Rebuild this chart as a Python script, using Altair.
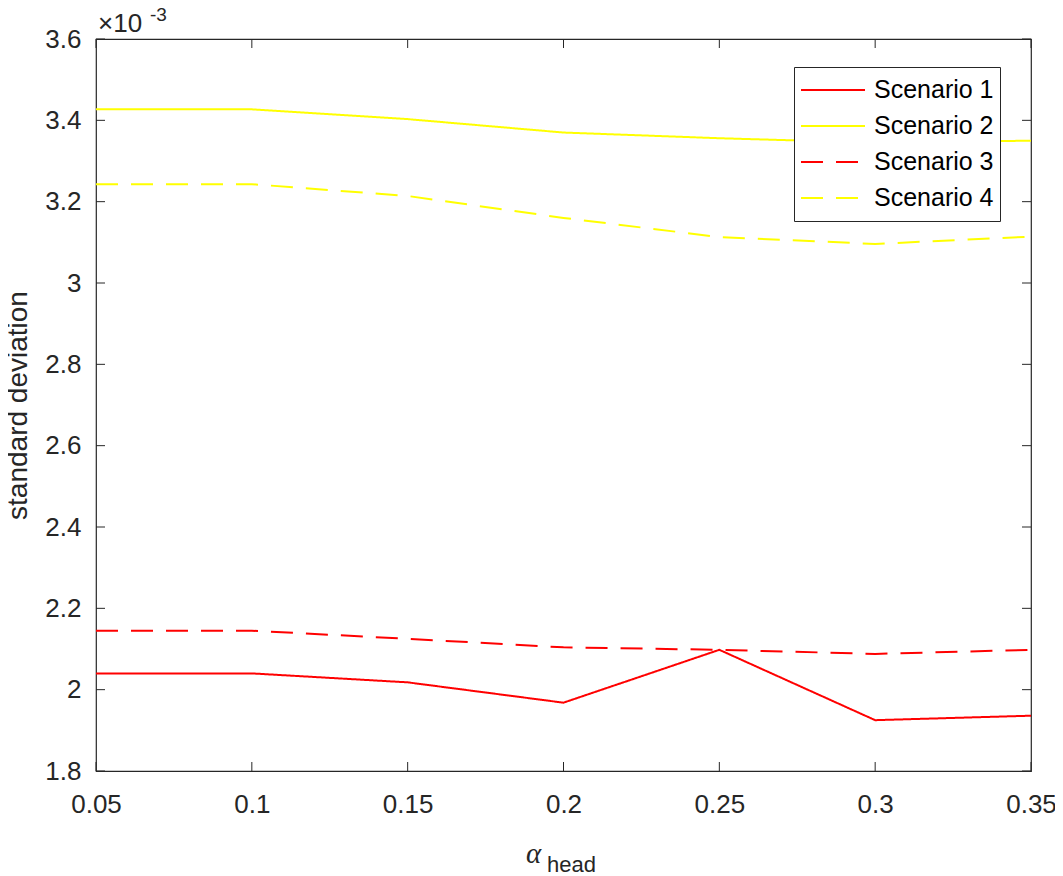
import altair as alt
import pandas as pd

# ---- data ----
alpha_head = [0.05, 0.10, 0.15, 0.20, 0.25, 0.30, 0.35]
scenario_1 = [2.040e-3, 2.040e-3, 2.018e-3, 1.968e-3, 2.098e-3, 1.925e-3, 1.936e-3]
scenario_2 = [3.427e-3, 3.427e-3, 3.403e-3, 3.370e-3, 3.356e-3, 3.345e-3, 3.350e-3]
scenario_3 = [2.145e-3, 2.145e-3, 2.125e-3, 2.104e-3, 2.098e-3, 2.088e-3, 2.098e-3]
scenario_4 = [3.243e-3, 3.243e-3, 3.214e-3, 3.160e-3, 3.113e-3, 3.096e-3, 3.114e-3]

series_names = ["Scenario 1", "Scenario 2", "Scenario 3", "Scenario 4"]
series_colors = ["#FF0000", "#FFFF00", "#FF0000", "#FFFF00"]
series_dashes = [[1, 0], [1, 0], [22, 13], [22, 13]]

x_ticks = [0.05, 0.10, 0.15, 0.20, 0.25, 0.30, 0.35]
y_ticks = [0.0018, 0.0020, 0.0022, 0.0024, 0.0026, 0.0028, 0.0030, 0.0032, 0.0034, 0.0036]

y_title = "standard deviation"
exp_base = "×10"
exp_power = "-3"
x_title_symbol = "α"
x_title_sub = "head"

# ---- tables ----
rows = []
for name, vals in zip(series_names, [scenario_1, scenario_2, scenario_3, scenario_4]):
    for a, v in zip(alpha_head, vals):
        rows.append({"alpha": a, "sd": v, "series": name})
df = pd.DataFrame(rows)
xt_df = pd.DataFrame({"alpha": x_ticks})
yt_df = pd.DataFrame({"sd": y_ticks})

W, H = 935, 732
AX = "#262626"
FONT = "Liberation Sans"

xscale = alt.Scale(domain=[0.05, 0.35], nice=False, zero=False)
yscale = alt.Scale(domain=[0.0018, 0.0036], nice=False, zero=False)

x_axis = alt.Axis(values=x_ticks, labelExpr="format(datum.value, '.2~f')", title=None,
                  tickSize=0, domain=False, grid=False, labelPadding=20,
                  labelFlush=False, labelOverlap=False, labelBound=False,
                  labelFontSize=26, labelFont=FONT, labelColor=AX)
y_axis = alt.Axis(values=y_ticks, labelExpr="format(datum.value*1000, '.1~f')",
                  title=y_title, tickSize=0, domain=False, grid=False, labelPadding=15,
                  labelFlush=False, labelOverlap=False, labelBound=False,
                  labelFontSize=26, labelFont=FONT, labelColor=AX,
                  titleFontSize=28, titleFont=FONT, titleFontWeight="normal", titleColor=AX,
                  titleAngle=-90, titleX=-70, titleY=H / 2, titleAlign="center",
                  titleBaseline="alphabetic")

leg = dict(title=None, orient="none", legendX=698, legendY=28, symbolType="stroke",
           symbolSize=4096, symbolStrokeWidth=2, labelFontSize=25, labelFont=FONT,
           labelColor="black", fillColor="white", strokeColor=AX, padding=6,
           labelOffset=8, clipHeight=34, rowPadding=2)

lines = alt.Chart(df).mark_line(strokeWidth=2).encode(
    x=alt.X("alpha:Q", scale=xscale, axis=x_axis),
    y=alt.Y("sd:Q", scale=yscale, axis=y_axis),
    color=alt.Color("series:N", scale=alt.Scale(domain=series_names, range=series_colors),
                    legend=alt.Legend(**leg)),
    strokeDash=alt.StrokeDash("series:N", scale=alt.Scale(domain=series_names, range=series_dashes),
                              legend=alt.Legend(**leg)),
    detail="series:N",
)

tick_len = 9
xt_bottom = alt.Chart(xt_df).mark_rule(color=AX, strokeWidth=1).encode(
    x=alt.X("alpha:Q", scale=xscale, axis=x_axis),
    y=alt.value(H), y2=alt.value(H - tick_len))
xt_top = alt.Chart(xt_df).mark_rule(color=AX, strokeWidth=1).encode(
    x=alt.X("alpha:Q", scale=xscale, axis=x_axis),
    y=alt.value(0), y2=alt.value(tick_len))
yt_left = alt.Chart(yt_df).mark_rule(color=AX, strokeWidth=1).encode(
    y=alt.Y("sd:Q", scale=yscale, axis=y_axis),
    x=alt.value(0), x2=alt.value(tick_len))
yt_right = alt.Chart(yt_df).mark_rule(color=AX, strokeWidth=1).encode(
    y=alt.Y("sd:Q", scale=yscale, axis=y_axis),
    x=alt.value(W), x2=alt.value(W - tick_len))

one = pd.DataFrame({"k": [0]})
exp1 = alt.Chart(one).mark_text(align="left", baseline="alphabetic", fontSize=26, font=FONT,
                                color=AX).encode(x=alt.value(2), y=alt.value(-7),
                                                 text=alt.value(exp_base))
exp2 = alt.Chart(one).mark_text(align="left", baseline="alphabetic", fontSize=19, font=FONT,
                                color=AX).encode(x=alt.value(54), y=alt.value(-18),
                                                 text=alt.value(exp_power))
xlab1 = alt.Chart(one).mark_text(align="left", baseline="alphabetic", fontSize=29,
                                 font="Liberation Serif", fontStyle="italic",
                                 color=AX).encode(x=alt.value(430), y=alt.value(824),
                                                  text=alt.value(x_title_symbol))
xlab2 = alt.Chart(one).mark_text(align="left", baseline="alphabetic", fontSize=22, font=FONT,
                                 color=AX).encode(x=alt.value(451), y=alt.value(833),
                                                  text=alt.value(x_title_sub))

chart = alt.layer(lines, xt_bottom, xt_top, yt_left, yt_right, exp1, exp2, xlab1, xlab2).properties(
    width=W, height=H,
    padding={"left": 88, "top": 31, "right": 24, "bottom": 105},
    autosize=alt.AutoSizeParams(type="none"),
    background="white",
).configure_view(stroke=AX, strokeWidth=1.2)

chart.save("out.html", embed_options={"renderer": "svg", "actions": False})
